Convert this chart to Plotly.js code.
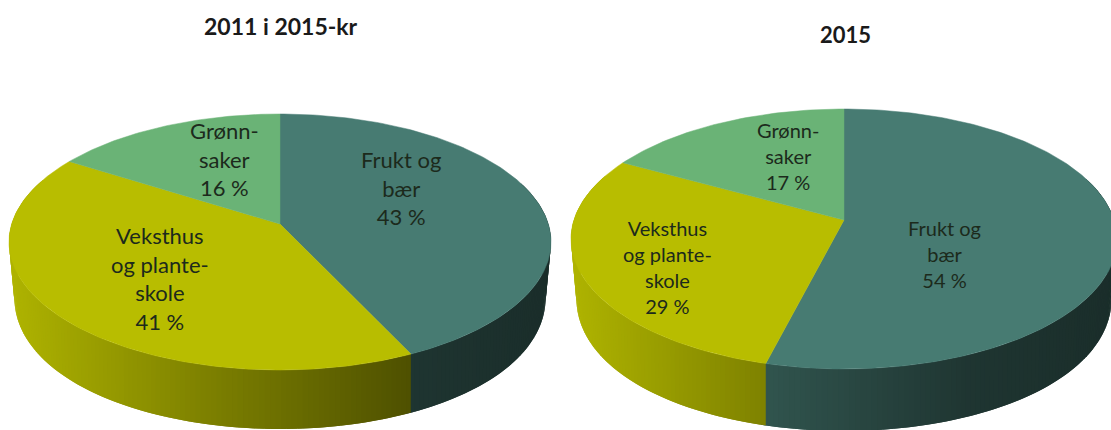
<!DOCTYPE html>
<html>
<head>
<meta charset="utf-8">
<script src="https://cdn.plot.ly/plotly-3.0.1.min.js"></script>
<style>html,body{margin:0;padding:0;background:#fff;overflow:hidden}</style>
</head>
<body>
<div id="chart" style="width:1111px;height:430px"></div>
<script>
// ---- data ----
const categories = ["Frukt og bær", "Veksthus og planteskole", "Grønnsaker"];
const values2011 = [43, 41, 16];
const values2015 = [54, 29, 17];
const title2011 = "2011 i 2015-kr";
const title2015 = "2015";
const labelLines = [["Frukt og", "bær"], ["Veksthus", "og plante-", "skole"], ["Grønn-", "saker"]];

// ---- styling / layout ----
const topColors = [[71, 123, 114], [184, 189, 0], [106, 179, 118]];
const shadeX = [-1, -0.27, 0.47, 1];
const shadeF = [0.95, 0.68, 0.43, 0.37];
const FONT = "Lato, 'Open Sans', sans-serif";
const INK = "#1c2a1c";

const pies = [
  {values: values2011, cx: 280, cy: 242, rx: 271, ry: 128, apex: 18, depth: 56, ryB: 131, narrow: 0.02,
   title: title2011, titleX: 281, titleY: 26, font: 22, titleFont: 23,
   labelPos: [[401, 188], [160, 278.5], [224, 158.5]]},
  {values: values2015, cx: 844, cy: 239, rx: 273, ry: 130, apex: 19, depth: 60, ryB: 132, narrow: 0.02,
   title: title2015, titleX: 845, titleY: 34, font: 20, titleFont: 22,
   labelPos: [[944, 253.5], [667, 267], [788, 156]]}
];

function rgb(c, f) { return "rgb(" + c.map(v => Math.round(v * f)).join(",") + ")"; }
function shade(t) {
  for (let i = 0; i < shadeX.length - 1; i++) {
    if (t <= shadeX[i + 1]) {
      const a = (t - shadeX[i]) / (shadeX[i + 1] - shadeX[i]);
      return shadeF[i] + a * (shadeF[i + 1] - shadeF[i]);
    }
  }
  return shadeF[shadeF.length - 1];
}
// A circle seen in perspective: angle (clockwise from the top) -> page position.
function rim(p, deg, lower) {
  const a = deg * Math.PI / 180, u = Math.sin(a), v = Math.cos(a);
  const k = p.apex / p.ry, w = 1 + k * v;
  const ry = lower ? p.ryB : p.ry;
  const A = p.rx * Math.sqrt(1 - k * k);
  let X = A * u / w;
  const Y = (ry * v + ry * k) / w;
  if (lower) X *= 1 - p.narrow * Math.pow(Math.abs(X / p.rx), 4);
  return [p.cx + X, (p.cy + (lower ? p.depth : 0)) - Y];
}
const STEP = 1;
const traces = [];
const annotations = [];

pies.forEach(p => {
  const total = p.values.reduce((a, b) => a + b, 0);
  let start = 0;
  const spans = p.values.map(val => {
    const s = [start, start + val / total * 360];
    start = s[1];
    return s;
  });
  // side wall: each strip overlaps the next one, which paints over it, so no seams show
  spans.forEach((s, i) => {
    for (let d = s[0]; d < s[1]; d += STEP) {
      const e = Math.min(d + STEP, s[1]);
      if (Math.cos((d + e) / 2 * Math.PI / 180) > 0.35) continue;
      const end = e + STEP;
      const a = rim(p, d, false), b = rim(p, end, false), c = rim(p, end, true), f = rim(p, d, true);
      const mid = rim(p, (d + e) / 2, false);
      const col = rgb(topColors[i], shade((mid[0] - p.cx) / p.rx));
      traces.push({type: "scatter", mode: "lines", fill: "toself", fillcolor: col,
        line: {width: 0}, hoverinfo: "skip", showlegend: false,
        x: [a[0], b[0], c[0], f[0], a[0]], y: [a[1], b[1], c[1], f[1], a[1]]});
    }
  });
  // top face
  spans.forEach((s, i) => {
    const xs = [p.cx], ys = [p.cy - p.apex];
    for (let d = s[0]; d < s[1]; d += 1) {
      const q = rim(p, d, false); xs.push(q[0]); ys.push(q[1]);
    }
    const q = rim(p, s[1], false); xs.push(q[0], p.cx); ys.push(q[1], p.cy - p.apex);
    const col = rgb(topColors[i], 1);
    traces.push({type: "scatter", mode: "lines", fill: "toself", fillcolor: col,
      line: {color: col, width: 0.5}, name: categories[i], text: p.values[i] + " %",
      hoverinfo: "name+text", showlegend: false, x: xs, y: ys});
    annotations.push({
      xref: "x", yref: "y", x: p.labelPos[i][0], y: p.labelPos[i][1], showarrow: false,
      align: "center", xanchor: "center", yanchor: "middle",
      text: labelLines[i].concat([p.values[i] + " %"]).join("<br>"),
      font: {family: FONT, size: p.font, color: INK}
    });
  });
  annotations.push({
    xref: "x", yref: "y", x: p.titleX, y: p.titleY, showarrow: false,
    xanchor: "center", yanchor: "middle", text: "<b>" + p.title + "</b>",
    font: {family: FONT, size: p.titleFont, color: "#1a1a1a"}
  });
});

const hidden = {visible: false, fixedrange: true};
Plotly.newPlot("chart", traces, {
  width: 1111, height: 430,
  margin: {l: 0, r: 0, t: 0, b: 0},
  paper_bgcolor: "#fff", plot_bgcolor: "#fff",
  showlegend: false,
  xaxis: Object.assign({range: [0, 1111]}, hidden),
  yaxis: Object.assign({range: [430, 0]}, hidden),
  annotations: annotations
}, {displayModeBar: false, staticPlot: true});
</script>
</body>
</html>
